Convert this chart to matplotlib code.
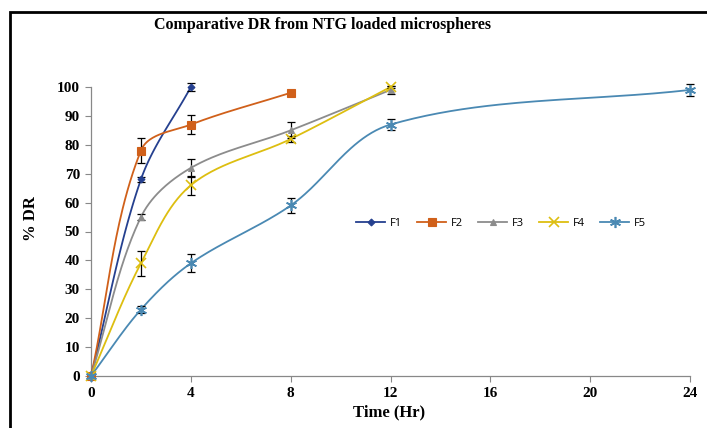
import numpy as np
import matplotlib
matplotlib.use("Agg")
import matplotlib.pyplot as plt
from matplotlib.patches import Rectangle

# ---- data ----
labels = ["F1", "F2", "F3", "F4", "F5"]
t_f1 = [0, 2, 4]
t_f2 = [0, 2, 4, 8]
t_f3 = [0, 2, 4, 8, 12]
t_f4 = [0, 2, 4, 8, 12]
t_f5 = [0, 2, 4, 8, 12, 24]
dr_f1 = [0, 68, 100]
dr_f2 = [0, 78, 87, 98]
dr_f3 = [0, 55, 72, 85, 99]
dr_f4 = [0, 39, 66, 82, 100]
dr_f5 = [0, 23, 39, 59, 87, 99]
err_f1 = [0, 1, 1.5]
err_f2 = [0, 4.4, 3.3, 0.5]
err_f3 = [0, 1, 3, 2.8, 1.5]
err_f4 = [0, 4.4, 3.3, 1, 0.5]
err_f5 = [0, 1.2, 3.1, 2.6, 2, 2]
x_ticks = [0, 4, 8, 12, 16, 20, 24]
y_ticks = list(range(0, 101, 10))

colors = ["#25408F", "#D0601A", "#8C8C8C", "#DDBE10", "#4A89B3"]
markers = ["D", "s", "^", "x", (6, 2, 0)]
msizes = [3.5, 6, 5, 7, 8]

series_t = [t_f1, t_f2, t_f3, t_f4, t_f5]
series_y = [dr_f1, dr_f2, dr_f3, dr_f4, dr_f5]
series_e = [err_f1, err_f2, err_f3, err_f4, err_f5]

PX_X = 599 / 24.0   # pixels per x unit (for shape of smoothed line)
PX_Y = 289 / 100.0  # pixels per y unit


def smooth(xs, ys, n=50):
    """Smoothed line through the points (Bezier, tangent along neighbours,
    control length one third of the segment), computed in screen space."""
    P = np.column_stack([np.asarray(xs, float) * PX_X, np.asarray(ys, float) * PX_Y])
    m = len(P)
    out = []
    for i in range(m - 1):
        p0 = P[i - 1] if i > 0 else P[i]
        p1 = P[i]
        p2 = P[i + 1]
        p3 = P[i + 2] if i + 2 < m else P[i + 1]
        d12 = np.linalg.norm(p2 - p1)
        t1 = p2 - p0
        t2 = p3 - p1
        t1 = t1 / np.linalg.norm(t1)
        t2 = t2 / np.linalg.norm(t2)
        c1 = p1 + t1 * d12 / 3.0
        c2 = p2 - t2 * d12 / 3.0
        s = np.linspace(0, 1, n)[:, None]
        seg = ((1 - s) ** 3) * p1 + 3 * ((1 - s) ** 2) * s * c1 + 3 * (1 - s) * s ** 2 * c2 + s ** 3 * p2
        out.append(seg if i == 0 else seg[1:])
    out = np.vstack(out)
    return out[:, 0] / PX_X, out[:, 1] / PX_Y


W, H = 707, 428
fig = plt.figure(figsize=(W / 100, H / 100), dpi=100)
fig.patch.set_facecolor("white")

# figure border (black frame, left/top visible)
fig.add_artist(Rectangle((10 / W, -0.2), 1.2, 1.2 - 12 / H, transform=fig.transFigure,
                         fill=False, edgecolor="black", linewidth=2.0))

ax = fig.add_axes([91 / W, 1 - 376 / H, (690 - 91) / W, (376 - 87) / H])

serif = "Liberation Serif"

handles = []
for lab, t, y, e, c, mk, ms in zip(labels, series_t, series_y, series_e, colors, markers, msizes):
    sx, sy = smooth(t, y)
    ax.plot(sx, sy, color=c, lw=1.3, zorder=3, clip_on=False)
    ax.errorbar(t, y, yerr=e, fmt="none", ecolor="black", elinewidth=0.9,
                capsize=3, capthick=0.9, zorder=4, clip_on=False)
    mew = 1.2 if mk in ("x", (6, 2, 0)) else 0.8
    ax.plot(t, y, linestyle="none", marker=mk, color=c, markersize=ms,
            markeredgewidth=mew, zorder=5, clip_on=False)
    h, = ax.plot([], [], color=c, lw=1.3, marker=mk, markersize=ms, markeredgewidth=mew)
    handles.append(h)

ax.set_xlim(0, 24)
ax.set_ylim(0, 100)
ax.set_xticks(x_ticks)
ax.set_yticks(y_ticks)
ax.set_xticklabels([str(v) for v in x_ticks], fontfamily=serif, fontweight="bold", fontsize=11)
ax.set_yticklabels([str(v) for v in y_ticks], fontfamily=serif, fontweight="bold", fontsize=11)
ax.tick_params(direction="out", length=4, width=0.8, color="#888888", pad=4)
for s in ("top", "right"):
    ax.spines[s].set_visible(False)
for s in ("left", "bottom"):
    ax.spines[s].set_color("#888888")
    ax.spines[s].set_linewidth(0.9)

fig.text(389 / W, 1 - 412 / H, "Time (Hr)", ha="center", va="center",
         fontfamily=serif, fontweight="bold", fontsize=12)
fig.text(31 / W, 1 - 219 / H, "% DR", ha="center", va="center", rotation=90,
         fontfamily=serif, fontweight="bold", fontsize=12)
fig.text(322 / W, 1 - 25 / H, "Comparative DR from NTG loaded microspheres", ha="center",
         va="center", fontfamily=serif, fontweight="bold", fontsize=11.5)

leg = fig.legend(handles, labels, loc="center", bbox_to_anchor=(501 / W, 1 - 223 / H),
                 ncol=5, frameon=False, prop={"family": "Open Sans", "size": 8},
                 handlelength=2.6, handletextpad=0.4, columnspacing=1.4)

fig.savefig("out.png", dpi=100, facecolor="white")
